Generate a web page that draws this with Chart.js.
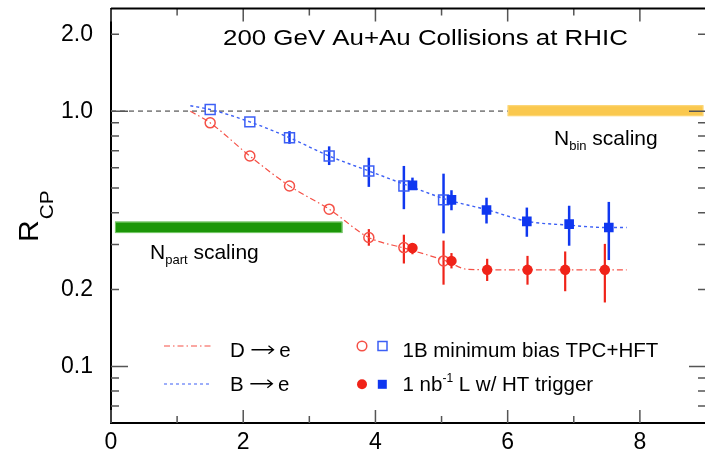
<!DOCTYPE html>
<html>
<head>
<meta charset="utf-8">
<script src="https://cdn.jsdelivr.net/npm/chart.js@4"></script>
<style>
  html, body { margin: 0; padding: 0; background: #fff; }
  #wrap { width: 705px; height: 450px; }
</style>
</head>
<body>
<div id="wrap"><canvas id="rcp" width="705" height="450"></canvas></div>
<script>
// ---- data ----
const xMinBias = [1.5, 2.1, 2.7, 3.3, 3.9, 4.43, 5.03];
const dMinBias = [0.90, 0.667, 0.509, 0.413, 0.32, 0.292, 0.259];
const dMinBiasLo = [0.90, 0.667, 0.509, 0.413, 0.297, 0.253, 0.209];
const dMinBiasHi = [0.90, 0.667, 0.509, 0.413, 0.345, 0.328, 0.311];
const bMinBias = [1.015, 0.908, 0.787, 0.667, 0.583, 0.509, 0.449];
const bMinBiasLo = [1.015, 0.908, 0.745, 0.615, 0.505, 0.413, 0.332];
const bMinBiasHi = [1.015, 0.908, 0.835, 0.728, 0.657, 0.61, 0.569];

const xTrigD = [4.56, 5.15, 5.69, 6.3, 6.87, 7.47];
const dTrig = [0.291, 0.259, 0.239, 0.239, 0.239, 0.239];
const dTrigLo = [0.275, 0.242, 0.216, 0.209, 0.197, 0.178];
const dTrigHi = [0.304, 0.278, 0.264, 0.271, 0.282, 0.302];
const xTrigB = [4.56, 5.15, 5.68, 6.29, 6.93, 7.53];
const bTrig = [0.512, 0.449, 0.41, 0.37, 0.361, 0.35];
const bTrigLo = [0.494, 0.409, 0.363, 0.322, 0.297, 0.261];
const bTrigHi = [0.549, 0.49, 0.458, 0.419, 0.426, 0.441];

const xCurveD = [1.2, 1.5, 2.1, 2.7, 3.3, 3.9, 4.45, 5.05, 5.4, 6.0, 7.0, 7.8];
const dCurve = [1.0, 0.90, 0.667, 0.509, 0.413, 0.32, 0.29, 0.26, 0.24, 0.239, 0.239, 0.239];
const xCurveB = [1.2, 1.5, 2.1, 2.7, 3.3, 3.9, 4.5, 5.1, 5.7, 6.3, 6.9, 7.5, 7.8];
const bCurve = [1.05, 1.015, 0.908, 0.787, 0.667, 0.583, 0.51, 0.449, 0.41, 0.37, 0.358, 0.35, 0.35];

const unityX = [0, 6];
const unityY = 1.0;
const npartX = [0.06, 3.5];
const npartY = [0.333, 0.369];
const nbinX = [6.0, 8.96];
const nbinY = [0.956, 1.055];

const xTickVals = [0, 1, 2, 3, 4, 5, 6, 7, 8, 9];
const xTickLabels = [0, 2, 4, 6, 8];
const yTickVals = [0.07, 0.08, 0.09, 0.1, 0.2, 0.3, 0.4, 0.5, 0.6, 0.7, 0.8, 0.9, 1, 2];
const yTickLabels = [0.1, 0.2, 1, 2];
const yMajor = [0.1, 1];

const FONT = "'Liberation Sans', Arial, Helvetica, sans-serif";
const RED = 'rgb(240,35,25)';
const RED_LT = 'rgb(245,80,70)';
const BLUE = 'rgb(15,55,240)';
const BLUE_LT = 'rgb(60,95,245)';

function pts(xs, ys){
    return xs.map((x, i) => ({x: x, y: ys[i]}));
}

function txt(ctx, s, x, y, size, sx, fam){
    ctx.save();
    ctx.font = size + 'px ' + (fam || FONT);
    ctx.textBaseline = 'alphabetic';
    ctx.textAlign = 'left';
    ctx.translate(x, y);
    ctx.scale(sx || 1, 1);
    ctx.fillText(s, 0, 0);
    const w = ctx.measureText(s).width * (sx || 1);
    ctx.restore();
    return w;
}

// label like "D -> e" with a long arrow
function arrowLabel(ctx, a, b, x, y, size){
    let w = txt(ctx, a + ' ', x, y, size);
    const ax = x + w + 1, ay = y - size * 0.33;
    ctx.save();
    ctx.strokeStyle = '#000';
    ctx.lineWidth = 1.3;
    ctx.beginPath();
    ctx.moveTo(ax, ay); ctx.lineTo(ax + 22, ay);
    ctx.moveTo(ax + 17, ay - 4); ctx.lineTo(ax + 22, ay); ctx.lineTo(ax + 17, ay + 4);
    ctx.stroke();
    ctx.restore();
    txt(ctx, ' ' + b, ax + 22, y, size);
}

const deco = {
    id: 'deco',
    afterLayout(chart){
        // the frame runs out to x = 9 just past the right edge of the canvas
        const xs = chart.scales.x;
        const right = 706;
        xs.right = right;
        xs.width = right - xs.left;
        xs.configure();
        chart.chartArea.right = right;
        chart.chartArea.width = right - chart.chartArea.left;
    },
    beforeDatasetsDraw(chart){
        const ctx = chart.ctx;
        const xs = chart.scales.x, ys = chart.scales.y;

        // scaling bands
        function band(bx, by, fill, edge){
            const x0 = xs.getPixelForValue(bx[0]), x1 = xs.getPixelForValue(bx[1]);
            const y0 = ys.getPixelForValue(by[1]), y1 = ys.getPixelForValue(by[0]);
            ctx.save();
            ctx.fillStyle = fill;
            ctx.fillRect(x0, y0, x1 - x0, y1 - y0);
            ctx.strokeStyle = edge;
            ctx.lineWidth = 1;
            ctx.strokeRect(x0 + 0.5, y0 + 0.5, x1 - x0 - 1, y1 - y0 - 1);
            ctx.restore();
        }
        band(npartX, npartY, 'rgb(28,150,8)', 'rgb(120,200,105)');
        band(nbinX, nbinY, 'rgb(250,200,78)', 'rgb(252,215,120)');

        // error bars
        function bars(xv, lo, hi, color, w){
            ctx.save();
            ctx.strokeStyle = color;
            ctx.lineWidth = w;
            xv.forEach((x, i) => {
                if(hi[i] === lo[i]) return;
                const px = xs.getPixelForValue(x);
                ctx.beginPath();
                ctx.moveTo(px, ys.getPixelForValue(lo[i]));
                ctx.lineTo(px, ys.getPixelForValue(hi[i]));
                ctx.stroke();
            });
            ctx.restore();
        }
        bars(xMinBias, bMinBiasLo, bMinBiasHi, BLUE, 2.5);
        bars(xMinBias, dMinBiasLo, dMinBiasHi, RED, 2.2);
        bars(xTrigB, bTrigLo, bTrigHi, BLUE, 2.5);
        bars(xTrigD, dTrigLo, dTrigHi, RED, 2.2);
    },
    afterDraw(chart){
        const ctx = chart.ctx;
        const a = chart.chartArea;
        const xs = chart.scales.x, ys = chart.scales.y;

        // inward ticks on all four sides
        ctx.save();
        ctx.strokeStyle = '#555';
        ctx.lineWidth = 1.5;
        ctx.beginPath();
        xTickVals.forEach(v => {
            const px = xs.getPixelForValue(v);
            const len = v % 2 === 0 ? 13 : 7;
            ctx.moveTo(px, a.bottom); ctx.lineTo(px, a.bottom - len);
            ctx.moveTo(px, a.top); ctx.lineTo(px, a.top + len);
        });
        yTickVals.forEach(v => {
            const py = ys.getPixelForValue(v);
            const len = yMajor.includes(v) ? 17 : 8;
            ctx.moveTo(a.left, py); ctx.lineTo(a.left + len, py);
            ctx.moveTo(a.right, py); ctx.lineTo(a.right - len, py);
        });
        ctx.stroke();

        // top and right frame
        ctx.strokeStyle = '#000';
        ctx.lineWidth = 2;
        ctx.beginPath();
        ctx.moveTo(a.left, a.top); ctx.lineTo(a.right, a.top); ctx.lineTo(a.right, a.bottom);
        ctx.stroke();
        ctx.restore();

        ctx.save();
        ctx.fillStyle = '#000';

        // title
        txt(ctx, '200 GeV Au+Au Collisions at RHIC', 223, 45, 22.5, 1.15);

        // scaling labels
        let w = txt(ctx, 'N', 150, 259, 21);
        w += txt(ctx, 'part', 150 + w, 264, 13);
        txt(ctx, ' scaling', 150 + w, 259, 21);
        w = txt(ctx, 'N', 554, 145, 21);
        w += txt(ctx, 'bin', 554 + w, 150, 13);
        txt(ctx, ' scaling', 554 + w, 145, 21);

        // y axis title R_CP (rotated)
        ctx.save();
        ctx.translate(38, 242);
        ctx.rotate(-Math.PI / 2);
        const rw = txt(ctx, 'R', 0, 0, 27, 1.12);
        txt(ctx, 'CP', rw + 1, 15, 18, 1.15);
        ctx.restore();

        // legend
        ctx.lineWidth = 1.2;
        ctx.strokeStyle = RED_LT;
        ctx.setLineDash([6, 3, 1.5, 3]);
        ctx.beginPath(); ctx.moveTo(164, 346); ctx.lineTo(211, 346); ctx.stroke();
        ctx.strokeStyle = BLUE_LT;
        ctx.setLineDash([3, 3]);
        ctx.beginPath(); ctx.moveTo(164, 384); ctx.lineTo(211, 384); ctx.stroke();
        ctx.setLineDash([]);

        arrowLabel(ctx, 'D', 'e', 230, 356.5, 20.5);
        arrowLabel(ctx, 'B', 'e', 230, 390.5, 20.5);

        ctx.lineWidth = 1.5;
        ctx.strokeStyle = RED_LT;
        ctx.beginPath(); ctx.arc(362, 346, 4.8, 0, Math.PI * 2); ctx.stroke();
        ctx.strokeStyle = BLUE_LT;
        ctx.strokeRect(378, 341.5, 9, 9);
        ctx.fillStyle = RED;
        ctx.beginPath(); ctx.arc(362, 384.3, 5, 0, Math.PI * 2); ctx.fill();
        ctx.fillStyle = BLUE;
        ctx.fillRect(377.8, 379.8, 9, 9);

        ctx.fillStyle = '#000';
        txt(ctx, '1B minimum bias TPC+HFT', 402.5, 356.5, 20.5);
        w = txt(ctx, '1 nb', 402.5, 390.5, 20.5);
        w += txt(ctx, '-1', 402.5 + w, 382, 12);
        txt(ctx, ' L w/ HT trigger', 402.5 + w, 390.5, 20.5);
        ctx.restore();
    }
};

new Chart(document.getElementById('rcp'), {
    type: 'scatter',
    data: {
        datasets: [
            {
                label: 'unity',
                data: pts(unityX, [unityY, unityY]),
                showLine: true,
                pointRadius: 0,
                borderColor: '#888',
                borderWidth: 1.8,
                borderDash: [5, 4],
                order: 5
            },
            {
                label: 'D -> e',
                data: pts(xCurveD, dCurve),
                showLine: true,
                pointRadius: 0,
                borderColor: RED_LT,
                borderWidth: 1.2,
                borderDash: [6, 3, 1.5, 3],
                cubicInterpolationMode: 'monotone',
                order: 4
            },
            {
                label: 'B -> e',
                data: pts(xCurveB, bCurve),
                showLine: true,
                pointRadius: 0,
                borderColor: BLUE_LT,
                borderWidth: 1.4,
                borderDash: [3, 3],
                cubicInterpolationMode: 'monotone',
                order: 4
            },
            {
                label: 'D 1B min bias',
                data: pts(xMinBias, dMinBias),
                pointStyle: 'circle',
                pointRadius: 5,
                pointBorderWidth: 1.5,
                borderColor: RED_LT,
                backgroundColor: 'rgba(0,0,0,0)',
                order: 3
            },
            {
                label: 'B 1B min bias',
                data: pts(xMinBias, bMinBias),
                pointStyle: 'rect',
                pointRadius: 7,
                pointBorderWidth: 1.5,
                borderColor: BLUE_LT,
                backgroundColor: 'rgba(0,0,0,0)',
                order: 3
            },
            {
                label: 'D HT trigger',
                data: pts(xTrigD, dTrig),
                pointStyle: 'circle',
                pointRadius: 5.2,
                pointBorderWidth: 0,
                borderColor: RED,
                backgroundColor: RED,
                order: 1
            },
            {
                label: 'B HT trigger',
                data: pts(xTrigB, bTrig),
                pointStyle: 'rect',
                pointRadius: 6.8,
                pointBorderWidth: 0,
                borderColor: BLUE,
                backgroundColor: BLUE,
                order: 1
            }
        ]
    },
    options: {
        responsive: false,
        animation: false,
        layout: { padding: { top: 7, right: 0, left: 0, bottom: 0 } },
        plugins: {
            legend: { display: false },
            tooltip: { enabled: false }
        },
        scales: {
            x: {
                type: 'linear',
                min: 0,
                max: 9,
                afterFit(s){
                    s.height = 27;
                    s.paddingLeft = 0; s.paddingRight = 0;
                },
                afterBuildTicks(s){ s.ticks = xTickVals.map(v => ({value: v})); },
                ticks: {
                    autoSkip: false,
                    maxRotation: 0,
                    padding: 6,
                    color: '#000',
                    font: { family: FONT, size: 23 },
                    callback: v => xTickLabels.includes(v) ? String(v) : ''
                },
                grid: { display: false, drawTicks: false },
                border: { display: true, color: '#000', width: 2 }
            },
            y: {
                type: 'logarithmic',
                min: 0.06,
                max: 2.525,
                afterFit(s){
                    s.width = 111;
                    s.paddingTop = 0; s.paddingBottom = 0;
                },
                afterBuildTicks(s){ s.ticks = yTickVals.map(v => ({value: v})); },
                ticks: {
                    autoSkip: false,
                    padding: 18,
                    color: '#000',
                    font: { family: FONT, size: 23 },
                    callback: v => yTickLabels.includes(v) ? v.toFixed(1) : ''
                },
                grid: { display: false, drawTicks: false },
                border: { display: true, color: '#000', width: 2 }
            }
        }
    },
    plugins: [deco]
});
</script>
</body>
</html>
